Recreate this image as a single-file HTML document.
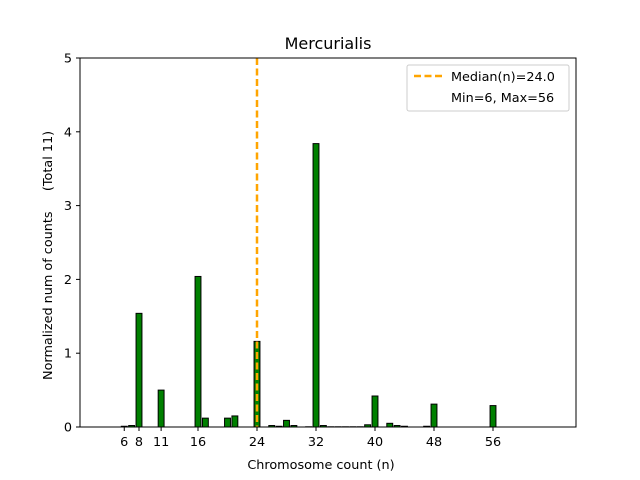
<!DOCTYPE html>
<html><head><meta charset="utf-8"><style>body{margin:0;background:#fff}svg{display:block}text{font-family:"DejaVu Sans","Liberation Sans",sans-serif;fill:#000}</style></head><body>
<svg width="640" height="480" xmlns="http://www.w3.org/2000/svg">
<rect width="640" height="480" fill="#fff"/>
<g fill="#008000" stroke="#000" stroke-width="1" id="bars"></g>
<line x1="257" y1="58" x2="257" y2="427" stroke="#ffa500" stroke-width="2.5" stroke-dasharray="7,3.5"/>
<rect x="80" y="58" width="496" height="369" fill="none" stroke="#000" stroke-width="1"/>
<g font-size="12.8" text-anchor="middle" id="xt"></g>
<g font-size="12.8" text-anchor="end" id="yt"></g>
<text x="321" y="469" font-size="12.8" text-anchor="middle">Chromosome count (n)</text>
<text transform="translate(52,380) rotate(-90)" font-size="12.8" style="white-space:pre">Normalized num of counts     (Total 11)</text>
<text x="328" y="49" font-size="16" text-anchor="middle">Mercurialis</text>
<rect x="407" y="65" width="162" height="46" rx="2" fill="#fff" stroke="#ccc"/>
<line x1="414" y1="76" x2="442" y2="76" stroke="#ffa500" stroke-width="2.5" stroke-dasharray="7,3.5"/>
<text x="451" y="81" font-size="12.8">Median(n)=24.0</text>
<text x="451" y="102" font-size="12.8">Min=6, Max=56</text>
</svg>
<script>
const ns="http://www.w3.org/2000/svg";
const X=n=>80+7.375*n, Y=v=>427-73.8*v;
const d=[[6,.01],[7,.02],[8,1.54],[11,.5],[16,2.04],[17,.12],[20,.12],[21,.15],[24,1.16],[26,.02],[27,.01],[28,.09],[29,.02],[31,.003],[32,3.84],[33,.02],[34,.003],[35,.003],[36,.003],[37,.003],[38,.003],[39,.03],[40,.42],[42,.05],[43,.02],[44,.01],[47,.01],[48,.31],[56,.29]];
const b=document.getElementById('bars');
d.forEach(([n,v])=>{const r=document.createElementNS(ns,'rect');r.setAttribute('x',X(n)-2.95);r.setAttribute('width',5.9);r.setAttribute('y',Y(v));r.setAttribute('height',427-Y(v));b.appendChild(r);});
const xt=document.getElementById('xt');
[6,8,11,16,24,32,40,48,56].forEach(n=>{const l=document.createElementNS(ns,'line');l.setAttribute('x1',X(n));l.setAttribute('x2',X(n));l.setAttribute('y1',427);l.setAttribute('y2',431);l.setAttribute('stroke','#000');xt.appendChild(l);const t=document.createElementNS(ns,'text');t.setAttribute('x',X(n));t.setAttribute('y',446);t.textContent=n;xt.appendChild(t);});
const yt=document.getElementById('yt');
[0,1,2,3,4,5].forEach(v=>{const l=document.createElementNS(ns,'line');l.setAttribute('x1',76);l.setAttribute('x2',80);l.setAttribute('y1',Y(v));l.setAttribute('y2',Y(v));l.setAttribute('stroke','#000');yt.appendChild(l);const t=document.createElementNS(ns,'text');t.setAttribute('x',72);t.setAttribute('y',Y(v)+4.5);t.textContent=v;yt.appendChild(t);});
</script>
</body></html>
